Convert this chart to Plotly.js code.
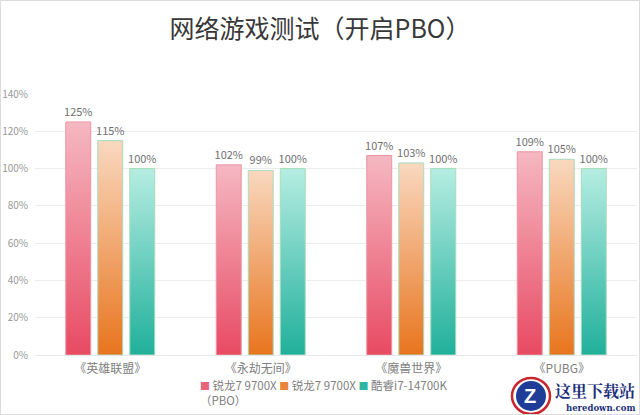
<!DOCTYPE html>
<html>
<head>
<meta charset="utf-8">
<script src="https://cdn.plot.ly/plotly-3.0.1.min.js"></script>
<style>
  html, body { margin:0; padding:0; background:#fff; }
  #wrap { position:relative; width:640px; height:415px; }
  #chart { width:640px; height:415px; }
  #frame { position:absolute; left:0; top:0; width:640px; height:415px; box-sizing:border-box; border:1px solid #dcdcdc; pointer-events:none; }
</style>
</head>
<body>
<div id="wrap"><div id="chart"></div><div id="frame"></div></div>
<script>
const categories = ['《英雄联盟》', '《永劫无间》', '《魔兽世界》', '《PUBG》'];
const seriesNames = ['锐龙7 9700X<br>（PBO）', '锐龙7 9700X', '酷睿i7-14700K'];
const ryzenPBO = [125, 102, 107, 109];
const ryzen = [115, 99, 103, 105];
const intel = [100, 100, 100, 100];
const yTickVals = [0, 20, 40, 60, 80, 100, 120, 140];
const yTickText = ['0%', '20%', '40%', '60%', '80%', '100%', '120%', '140%'];

const seriesValues = [ryzenPBO, ryzen, intel];
const solid = ['#e8647b', '#e9853a', '#2fb6a1'];
const edge = ['#ec95a4', '#a9dcc0', '#a6deb8'];
const gradTop = ['#f5b8c2', '#f9d8bf', '#b6ede2'];
const gradBot = ['#e84a63', '#e8751e', '#20b09b'];
const fontFam = '"Noto Sans CJK SC", "Noto Sans", sans-serif';

const traces = seriesValues.map((vals, i) => ({
  type: 'bar',
  name: seriesNames[i],
  x: categories,
  y: vals,
  text: vals.map(v => v + '%'),
  textposition: 'outside',
  constraintext: 'none',
  textfont: { family: fontFam, size: 11, color: '#707070' },
  cliponaxis: false,
  marker: { color: solid[i], line: { color: edge[i], width: 1 } },
  hoverinfo: 'none',
  showlegend: false
}));

// legend built as one text line from the series names
const firstLines = seriesNames.map(n => n.split('<br>')[0]);
const secondLine = seriesNames[0].split('<br>')[1] || '';
const legendText = firstLines.map((n, i) =>
  '<span style="color:' + solid[i] + ';font-size:10px">■</span> ' + n).join(' ') +
  '<br>' + secondLine;

const layout = {
  width: 640, height: 415,
  margin: { l: 35, r: 3, t: 94, b: 60 },
  paper_bgcolor: '#ffffff', plot_bgcolor: '#ffffff',
  font: { family: fontFam, color: '#808080', size: 11 },
  title: {
    text: '网络游戏测试（开启PBO）',
    font: { family: fontFam, size: 25, color: '#383838' },
    x: 0.5, xanchor: 'center', y: 0.93, yanchor: 'middle'
  },
  barmode: 'group',
  bargap: 0.362,
  bargroupgap: 0.22,
  showlegend: false,
  xaxis: {
    type: 'category',
    range: [-0.5, 3.5],
    showgrid: false, zeroline: false,
    showline: true, linecolor: '#e6e6e6', linewidth: 1,
    ticks: '',
    ticklabelstandoff: 3,
    tickfont: { family: fontFam, size: 12, color: '#808080' },
    fixedrange: true
  },
  yaxis: {
    range: [0, 140],
    tickvals: yTickVals, ticktext: yTickText,
    showgrid: true, gridcolor: '#ececec', gridwidth: 1,
    zeroline: false, showline: false, ticks: '',
    tickfont: { family: fontFam, size: 10, color: '#999999' },
    ticklabelstandoff: 6,
    fixedrange: true
  },
  annotations: [
    { xref: 'paper', yref: 'paper', x: (198 - 35) / 602, y: -0.075, xanchor: 'left', yanchor: 'top',
      align: 'left', text: legendText, showarrow: false,
      font: { family: fontFam, size: 11.5, color: '#808080' } },
    { xref: 'paper', yref: 'paper', x: 1.0, y: -0.083, xanchor: 'right', yanchor: 'top',
      text: '<b>这里下载站</b>', showarrow: false,
      font: { family: '"Noto Serif CJK SC", "Noto Sans CJK SC", serif', size: 16, color: '#1c2f7a' } },
    { xref: 'paper', yref: 'paper', x: 1.0, y: -0.178, xanchor: 'right', yanchor: 'top',
      text: '<b>heredown.com</b>', showarrow: false,
      font: { family: '"DejaVu Serif", "Liberation Serif", serif', size: 8.5, color: '#1c2f7a' } },
    { xref: 'paper', yref: 'paper', x: (530 - 35) / 602, y: -(396 - 355) / 261, xanchor: 'center', yanchor: 'middle',
      text: '<b>Z</b>', showarrow: false,
      font: { family: '"Liberation Sans", sans-serif', size: 20, color: '#ffffff' } }
  ],
  shapes: [
    { type: 'circle', xref: 'paper', yref: 'paper',
      x0: (512 - 35) / 602, x1: (550 - 35) / 602, y0: -(414 - 355) / 261, y1: -(378 - 355) / 261,
      line: { color: '#c8262e', width: 2.5 }, fillcolor: 'rgba(0,0,0,0)' },
    { type: 'circle', xref: 'paper', yref: 'paper',
      x0: (516 - 35) / 602, x1: (546 - 35) / 602, y0: -(411 - 355) / 261, y1: -(381 - 355) / 261,
      line: { width: 0 }, fillcolor: '#1f3d96' }
  ]
};

Plotly.newPlot('chart', traces, layout, { displayModeBar: false, staticPlot: true }).then(gd => {
  const svg = gd.querySelector('svg.main-svg');
  const NS = 'http://www.w3.org/2000/svg';
  let defs = svg.querySelector('defs');
  if (!defs) { defs = document.createElementNS(NS, 'defs'); svg.insertBefore(defs, svg.firstChild); }
  gradTop.forEach((top, i) => {
    const lg = document.createElementNS(NS, 'linearGradient');
    lg.setAttribute('id', 'barGrad' + i);
    lg.setAttribute('x1', '0'); lg.setAttribute('y1', '0');
    lg.setAttribute('x2', '0'); lg.setAttribute('y2', '1');
    const s1 = document.createElementNS(NS, 'stop');
    s1.setAttribute('offset', '0'); s1.setAttribute('stop-color', top);
    const s2 = document.createElementNS(NS, 'stop');
    s2.setAttribute('offset', '1'); s2.setAttribute('stop-color', gradBot[i]);
    lg.appendChild(s1); lg.appendChild(s2);
    defs.appendChild(lg);
  });
  gd.querySelectorAll('.barlayer .trace.bars').forEach((tr, i) => {
    tr.querySelectorAll('.point path').forEach(p => {
      p.style.fill = 'url(#barGrad' + i + ')';
      p.style.fillOpacity = '1';
    });
  });
});
</script>
</body>
</html>
